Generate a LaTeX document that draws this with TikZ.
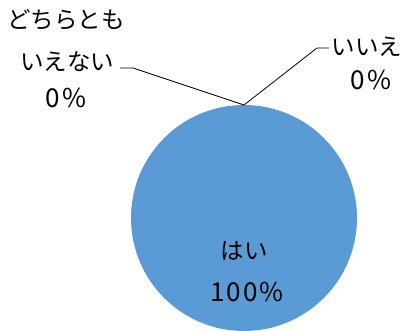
\documentclass[tikz,border=0pt]{standalone}
\usepackage{fontspec}
\newfontfamily\jp{Noto Sans CJK JP}
\newfontfamily\jpw[LetterSpace=8]{Noto Sans CJK JP}
\definecolor{pieblue}{HTML}{5B9BD5}
\begin{document}
\begin{tikzpicture}[x=1pt,y=-1pt,
  lbl/.style={inner sep=0pt,font=\jp\fontsize{23.5}{28}\selectfont},
  num/.style={inner sep=0pt,font=\jpw\fontsize{26}{30}\selectfont},
  leader/.style={draw=black,line width=0.8pt}]
\useasboundingbox (0,0) rectangle (407,331);
\fill[pieblue] (244,218) circle[radius=113];
\coordinate (top) at (244,105);
\coordinate (lb) at (133,68);
\coordinate (le) at (120,68);
\coordinate (rb) at (317,48);
\coordinate (re) at (329,48);
\draw[leader] (le) -- (lb) -- (top) -- (rb) -- (re);
\node[lbl] (d1) at (66,20) {どちらとも};
\node[lbl] (d2) at (67,62) {いえない};
\node[num] (d3) at (66,98) {0\%};
\node[lbl] (i1) at (367,47) {いいえ};
\node[num] (i2) at (371,80) {0\%};
\node[lbl] (h1) at (244,251) {はい};
\node[num] (h2) at (247,292) {100\%};
\end{tikzpicture}
\end{document}
